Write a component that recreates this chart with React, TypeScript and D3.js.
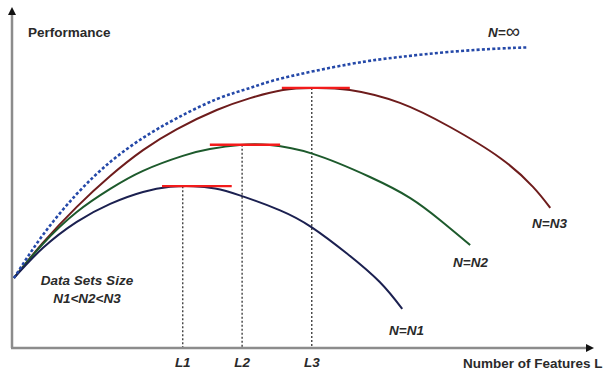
import React, { useEffect, useRef } from 'react';
import * as d3 from 'd3';

// curves: [features L, performance]
const infCurve: [number, number][] = [
  [0, 20.6], [5, 33.2], [10.9, 45.3], [16.7, 54.7], [22.4, 61.8], [28.3, 67.6], [35.2, 73.2],
  [41, 76.5], [46.7, 79.4], [58.3, 83.5], [67, 85.6], [75.7, 87.1], [84.4, 88.1], [89.1, 88.4],
];
const n3Curve: [number, number][] = [
  [0, 20.6], [5, 30.9], [10.9, 41.5], [16.7, 50.6], [22.4, 58.2], [28.3, 64.4], [35.2, 70],
  [41, 73.5], [46.7, 75.9], [51.9, 76.5], [58.3, 75.9], [67, 72.1], [75.7, 65], [84.4, 55.9],
  [90.1, 47.4], [93.1, 41.2],
];
const n2Curve: [number, number][] = [
  [0, 20.6], [5, 30.6], [10.9, 40], [16.7, 46.8], [22.4, 52.1], [29.3, 56.5], [34, 58.5],
  [39.2, 59.7], [44.4, 59.7], [51.9, 57.1], [61.8, 50.3], [68.8, 44.1], [74, 37.6], [79.2, 30.3],
];
const n1Curve: [number, number][] = [
  [0, 20.6], [5, 29.4], [10.9, 37.1], [16.7, 42.4], [22.4, 45.9], [27.1, 47.4], [31.1, 47.6],
  [34.9, 46.9], [39.2, 44.9], [46.2, 40.5], [51.7, 35.5], [57.8, 27.8], [63.5, 19.4], [67.4, 11.5],
];

// flat optimum marks [from L, to L, performance]
const optimumMarks: [number, number, number][] = [
  [25.7, 37.8, 47.6], [34, 46.2, 59.8], [46.5, 58.3, 76.5],
];
const optimumL = [29.3, 39.6, 51.7];
const optimumPerf = [47.6, 59.8, 76.5];
const optimumLabels = ['L1', 'L2', 'L3'];

const curveColors = ['#6e1c1c', '#1d5a2c', '#1b2050'];

export default function App() {
  const svgRef = useRef(null);
  const width = 611;
  const height = 374;

  useEffect(() => {
    const svg = d3.select(svgRef.current);
    svg.selectAll('*').remove();

    const x = d3.scaleLinear().domain([0, 100]).range([14, 590]);
    const y = d3.scaleLinear().domain([0, 100]).range([348, 8]);

    const line = d3.line<[number, number]>()
      .x(d => x(d[0]))
      .y(d => y(d[1]))
      .curve(d3.curveNatural);

    // axes
    svg.append('line')
      .attr('x1', 12).attr('y1', 348).attr('x2', 12).attr('y2', 14)
      .attr('stroke', '#8c8c8c').attr('stroke-width', 2.5);
    svg.append('line')
      .attr('x1', 11).attr('y1', 348).attr('x2', 587).attr('y2', 348)
      .attr('stroke', '#8c8c8c').attr('stroke-width', 2.5);
    svg.append('path').attr('d', 'M12,7 L8,15 L16,15 Z').attr('fill', '#111');
    svg.append('path').attr('d', 'M594,348 L586,344 L586,352 Z').attr('fill', '#111');

    // dashed drop lines
    svg.selectAll('.drop')
      .data(optimumL)
      .enter()
      .append('line')
      .attr('x1', d => x(d)).attr('x2', d => x(d))
      .attr('y1', (d, i) => y(optimumPerf[i]))
      .attr('y2', 347)
      .attr('stroke', '#222')
      .attr('stroke-width', 1.2)
      .attr('stroke-dasharray', '2 2');

    // data curves
    [n3Curve, n2Curve, n1Curve].forEach((c, i) => {
      svg.append('path')
        .attr('d', line(c))
        .attr('fill', 'none')
        .attr('stroke', curveColors[i])
        .attr('stroke-width', 2);
    });

    svg.append('path')
      .attr('d', line(infCurve))
      .attr('fill', 'none')
      .attr('stroke', '#2448a8')
      .attr('stroke-width', 2.6)
      .attr('stroke-dasharray', '3 2.2');

    // red optimum marks
    svg.selectAll('.opt')
      .data(optimumMarks)
      .enter()
      .append('line')
      .attr('x1', d => x(d[0])).attr('x2', d => x(d[1]))
      .attr('y1', d => y(d[2])).attr('y2', d => y(d[2]))
      .attr('stroke', '#f21b1b')
      .attr('stroke-width', 2.4);

    const font = '"Liberation Sans", Arial, sans-serif';
    const txt = (s: string, tx: number, ty: number, anchor: string, italic: boolean) =>
      svg.append('text')
        .attr('x', tx).attr('y', ty)
        .attr('text-anchor', anchor)
        .attr('font-family', font)
        .attr('font-size', 13.5)
        .attr('font-weight', 'bold')
        .attr('font-style', italic ? 'italic' : 'normal')
        .attr('fill', '#2a2a2a')
        .text(s);

    txt('Performance', 28, 37, 'start', false);
    txt('Number of Features L', 463, 368, 'start', false);
    const inf = txt('N=', 488, 37, 'start', true);
    inf.append('tspan')
      .attr('font-size', 20)
      .attr('font-weight', 'normal')
      .attr('font-style', 'normal')
      .attr('dy', 1)
      .text('\u221E');
    txt('N=N3', 532, 228, 'start', true);
    txt('N=N2', 453, 267, 'start', true);
    txt('N=N1', 389, 335, 'start', true);
    txt('Data Sets Size', 87, 285, 'middle', true);
    txt('N1<N2<N3', 87, 303, 'middle', true);
    optimumL.forEach((l, i) => txt(optimumLabels[i], x(l), 367, 'middle', true));
  }, []);

  return (
    <svg ref={svgRef} width={width} height={height}
      style={{ position: 'absolute', left: 0, top: 0, background: '#fff' }}></svg>
  );
}
